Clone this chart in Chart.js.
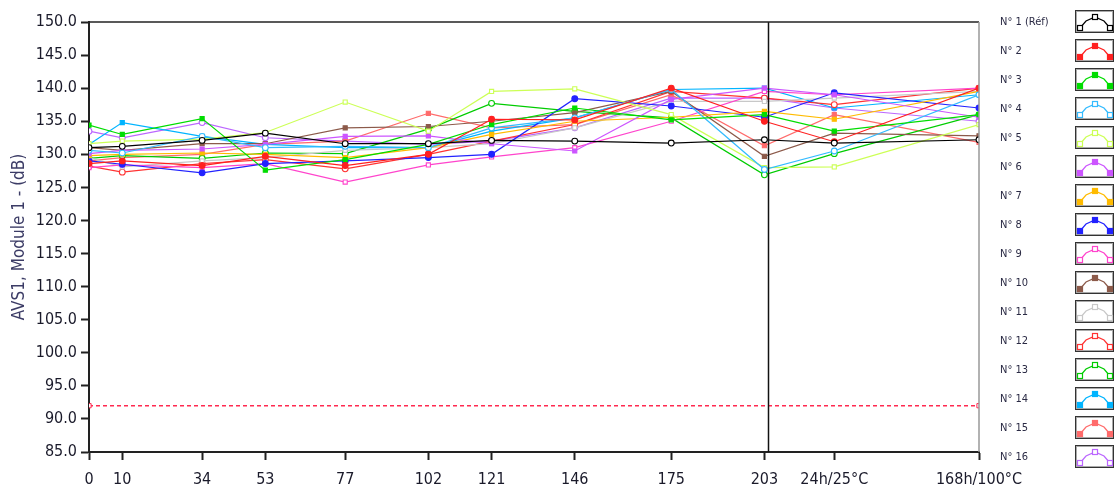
<!DOCTYPE html>
<html>
<head>
<meta charset="utf-8">
<title>AVS1 Module 1</title>
<script src="https://cdn.jsdelivr.net/npm/chart.js@4.4.1/dist/chart.umd.min.js"></script>
<style>
    html, body { margin: 0; padding: 0; background: #fff; }
    #wrap { width: 1114px; height: 489px; position: relative; }
</style>
</head>
<body>
<div id="wrap"><canvas id="lineChart"></canvas></div>
<script>
// Puntos de medida (eje x) y sus etiquetas
var measurePoints = [0, 10, 34, 53, 77, 102, 121, 146, 175, 203, 224, 267.5];
var xLabels = ['0', '10', '34', '53', '77', '102', '121', '146', '175', '203', '24h/25°C', '168h/100°C'];

// Nombres de las muestras
var sampleNames = ['N° 1 (Réf)', 'N° 2', 'N° 3', 'N° 4', 'N° 5', 'N° 6', 'N° 7', 'N° 8',
    'N° 9', 'N° 10', 'N° 11', 'N° 12', 'N° 13', 'N° 14', 'N° 15', 'N° 16'];

// Valores AVS1 (dB) por muestra
var n1 = [131.0, 131.2, 132.1, 133.2, 131.6, 131.6, 132.1, 132.0, 131.7, 132.2, 131.7, 132.2];
var n2 = [128.6, 129.0, 128.3, 129.7, 128.3, 130.0, 135.3, 135.2, 140.0, 135.0, 131.9, 140.0];
var n3 = [134.4, 133.0, 135.4, 127.6, 129.2, 131.5, 134.5, 137.0, 135.2, 136.0, 133.5, 136.0];
var n4 = [130.6, 130.2, 132.7, 131.0, 131.2, 131.0, 134.0, 135.5, 139.8, 127.7, 130.5, 139.0];
var n5 = [131.6, 132.0, 132.3, 133.3, 137.9, 133.5, 139.5, 139.9, 136.0, 128.0, 128.1, 134.5];
var n6 = [130.1, 130.6, 130.8, 131.5, 132.7, 132.8, 131.6, 130.5, 138.3, 140.0, 139.0, 135.6];
var n7 = [129.8, 130.0, 130.2, 130.0, 129.5, 131.0, 133.0, 135.0, 135.6, 136.5, 135.3, 139.5];
var n8 = [129.0, 128.5, 127.2, 128.6, 129.0, 129.5, 130.0, 138.4, 137.3, 135.6, 139.3, 137.0];
var n9 = [128.0, 128.4, 128.0, 128.6, 125.8, 128.4, 129.6, 131.0, 135.0, 139.5, 139.0, 140.0];
var n10 = [131.0, 130.6, 131.6, 131.6, 134.0, 134.2, 135.0, 136.3, 139.5, 129.7, 133.2, 132.8];
var n11 = [129.5, 128.1, 129.0, 129.5, 130.6, 131.0, 131.6, 134.0, 138.0, 138.0, 138.5, 139.5];
var n12 = [128.2, 127.3, 128.6, 129.2, 127.8, 130.0, 132.0, 134.5, 139.5, 138.5, 137.5, 140.0];
var n13 = [129.4, 129.8, 129.4, 130.2, 130.1, 133.8, 137.7, 136.5, 135.5, 126.9, 130.1, 136.0];
var n14 = [131.5, 134.8, 132.7, 131.5, 131.0, 131.0, 133.5, 135.5, 139.8, 140.0, 137.0, 139.0];
var n15 = [129.0, 129.5, 130.0, 131.5, 132.0, 136.2, 134.0, 134.5, 139.0, 131.3, 136.0, 131.8];
var n16 = [133.5, 132.5, 134.8, 132.5, 132.0, 131.5, 132.0, 134.0, 138.5, 138.5, 137.0, 135.0];
var allSeries = [n1, n2, n3, n4, n5, n6, n7, n8, n9, n10, n11, n12, n13, n14, n15, n16];

// Limite inferior y posicion del cursor
var limitValue = 92;
var cursorX = 204;

// Estilo de cada muestra: color, forma del marcador, relleno
var colors = ['#000000', '#ff2020', '#00dd00', '#33bbff', '#ccff55', '#cc55ff', '#ffbb00', '#2222ff',
    '#ff44cc', '#8c5a4a', '#c8c8c8', '#ff3333', '#00cc00', '#00b4ff', '#ff6b6b', '#bb66ff'];
var shapes = ['circle', 'circle', 'rect', 'circle', 'rect', 'rect', 'rect', 'circle',
    'rect', 'rect', 'rect', 'circle', 'circle', 'rect', 'rect', 'circle'];
var filled = [false, true, true, false, false, true, true, true,
    false, true, false, false, false, true, true, false];

var FONT = '"DejaVu Sans Condensed", "DejaVu Sans", sans-serif';

var datasets = [];
for (var i = 0; i < allSeries.length; i++) {
    var pts = [];
    for (var j = 0; j < measurePoints.length; j++) {
        pts.push({ x: measurePoints[j], y: allSeries[i][j] });
    }
    datasets.push({
        label: sampleNames[i],
        data: pts,
        borderColor: colors[i],
        backgroundColor: colors[i],
        borderWidth: 1.2,
        pointStyle: shapes[i],
        pointRadius: 2.9,
        pointBorderWidth: 1.1,
        pointBackgroundColor: filled[i] ? colors[i] : '#ffffff',
        pointBorderColor: colors[i],
        tension: 0
    });
}
// linea de limite (discontinua)
datasets.push({
    label: 'limite',
    data: [{ x: measurePoints[0], y: limitValue }, { x: measurePoints[measurePoints.length - 1], y: limitValue }],
    borderColor: '#ff2a50',
    borderWidth: 1.4,
    borderDash: [4, 3],
    pointStyle: 'rect',
    pointRadius: 3,
    pointBorderWidth: 1,
    pointBackgroundColor: '#ffffff',
    pointBorderColor: '#ff2a50'
});

// Marco del grafico, cursor vertical y leyenda a la derecha
var extrasPlugin = {
    id: 'extras',
    afterDatasetsDraw: function (chart) {
        var ctx = chart.ctx;
        var a = chart.chartArea;
        ctx.save();
        // cursor
        var cx = Math.round(chart.scales.x.getPixelForValue(cursorX)) + 0.5;
        ctx.strokeStyle = '#111';
        ctx.lineWidth = 1.5;
        ctx.beginPath();
        ctx.moveTo(cx, a.top);
        ctx.lineTo(cx, a.bottom);
        ctx.stroke();
        // borde superior y derecho
        ctx.lineWidth = 1.5;
        ctx.strokeStyle = '#222';
        ctx.beginPath();
        ctx.moveTo(a.left, a.top);
        ctx.lineTo(a.right, a.top);
        ctx.stroke();
        ctx.strokeStyle = '#999';
        ctx.beginPath();
        ctx.moveTo(a.right, a.top);
        ctx.lineTo(a.right, a.bottom);
        ctx.stroke();
        ctx.restore();
    },
    afterDraw: function (chart) {
        var ctx = chart.ctx;
        ctx.save();
        for (var i = 0; i < 16; i++) {
            var ds = chart.data.datasets[i];
            var y = 22 + i * 29;
            ctx.fillStyle = '#2a2a44';
            ctx.font = '11px ' + FONT;
            ctx.textAlign = 'left';
            ctx.textBaseline = 'middle';
            ctx.fillText(ds.label, 1000, y);
            // caja
            var bx = 1075.5, by = y - 11.5;
            ctx.lineWidth = 1;
            ctx.strokeStyle = '#333';
            ctx.strokeRect(bx, by, 38, 22);
            ctx.strokeStyle = '#aaa';
            ctx.strokeRect(bx + 1, by + 1, 36, 20);
            // icono de linea
            var p = [[1080, y + 6], [1086, y - 1], [1095, y - 5], [1104, y - 1], [1110, y + 6]];
            ctx.strokeStyle = ds.borderColor;
            ctx.lineWidth = 1.2;
            ctx.beginPath();
            ctx.moveTo(p[0][0], p[0][1]);
            for (var k = 1; k < p.length; k++) ctx.lineTo(p[k][0], p[k][1]);
            ctx.stroke();
            [p[0], p[2], p[4]].forEach(function (m) {
                ctx.fillStyle = ds.pointBackgroundColor;
                ctx.fillRect(m[0] - 3, m[1] - 3, 6, 6);
                ctx.strokeRect(m[0] - 2.5, m[1] - 2.5, 5, 5);
            });
        }
        ctx.restore();
    }
};

var lineChart = new Chart(document.getElementById('lineChart').getContext('2d'), {
    type: 'line',
    data: { datasets: datasets },
    plugins: [extrasPlugin],
    options: {
        responsive: true,
        maintainAspectRatio: false,
        animation: false,
        layout: { padding: { top: 22, right: 135, left: 0, bottom: 0 } },
        plugins: {
            legend: { display: false },
            tooltip: { enabled: false }
        },
        scales: {
            x: {
                type: 'linear',
                min: measurePoints[0],
                max: measurePoints[measurePoints.length - 1],
                afterBuildTicks: function (scale) {
                    scale.ticks = measurePoints.map(function (v) { return { value: v }; });
                },
                afterFit: function (scale) { scale.height = 37; },
                ticks: {
                    autoSkip: false,
                    maxRotation: 0,
                    padding: 10,
                    color: '#1a1a2a',
                    font: { family: FONT, size: 16 },
                    callback: function (value) {
                        var idx = measurePoints.indexOf(value);
                        return idx >= 0 ? xLabels[idx] : '';
                    }
                },
                grid: { drawOnChartArea: false, drawTicks: true, tickLength: 8, tickWidth: 2, tickColor: '#222' },
                border: { display: true, color: '#222', width: 2 }
            },
            y: {
                min: 85,
                max: 150,
                afterFit: function (scale) { scale.width = 89; },
                ticks: {
                    stepSize: 5,
                    padding: 4,
                    color: '#1a1a2a',
                    font: { family: FONT, size: 16 },
                    callback: function (value) { return value.toFixed(1); }
                },
                title: {
                    display: true,
                    text: 'AVS1, Module 1 - (dB)',
                    color: '#3c3c66',
                    font: { family: FONT, size: 17 },
                    padding: { top: 9, bottom: 0 }
                },
                grid: { drawOnChartArea: false, drawTicks: true, tickLength: 8, tickWidth: 2, tickColor: '#222' },
                border: { display: true, color: '#222', width: 2 }
            }
        }
    }
});
</script>
</body>
</html>
